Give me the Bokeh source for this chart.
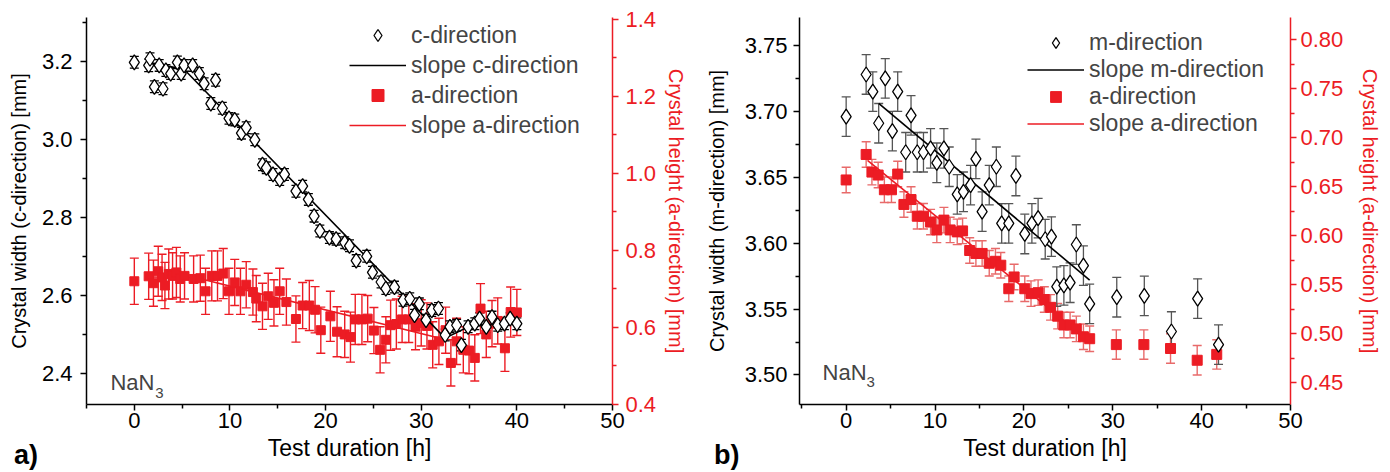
from bokeh.plotting import figure
from bokeh.models import (Range1d, LinearAxis, Whisker, TeeHead, ColumnDataSource,
                          Legend, LegendItem, Label, FixedTicker, PrintfTickFormatter, Div)
from bokeh.layouts import row, column
from bokeh.embed import file_html
from bokeh.resources import INLINE

# ---------------- data: panel a) ----------------
a_c_time = [0, 1.5, 1.64, 2.1, 2.6, 3.0, 3.3, 3.8, 4.5, 4.9, 5.2, 6.1, 6.8, 7.3, 8.0, 8.5,
            9.2, 9.9, 10.5, 11.2, 11.7, 12.6, 13.4, 13.8, 14.5, 15.2, 15.7, 16.9, 17.6,
            18.2, 18.8, 19.4, 20.4, 21.1, 22.0, 22.5, 23.2, 24.3, 24.9, 25.8, 26.3, 27.2,
            28.1, 28.8, 29.3, 29.8, 30.5, 31.1, 31.8, 32.5, 33.0, 33.7, 34.2, 34.9, 35.6,
            36.1, 36.8, 37.4, 38.0, 38.7, 39.3, 40.0]
a_c_width = [3.198, 3.19, 3.207, 3.135, 3.19, 3.13, 3.177, 3.169, 3.198, 3.169, 3.19, 3.19,
             3.169, 3.143, 3.092, 3.152, 3.08, 3.054, 3.05, 3.016, 3.03, 2.999, 2.935, 2.927,
             2.91, 2.897, 2.91, 2.867, 2.88, 2.846, 2.803, 2.765, 2.748, 2.744, 2.735, 2.727,
             2.689, 2.70, 2.659, 2.634, 2.617, 2.621, 2.587, 2.591, 2.549, 2.578, 2.536,
             2.561, 2.566, 2.498, 2.519, 2.523, 2.472, 2.519, 2.527, 2.54, 2.519, 2.544,
             2.523, 2.527, 2.54, 2.527]
a_c_err = [0.015, 0.016, 0.015, 0.015, 0.015, 0.015, 0.015, 0.015, 0.016, 0.015, 0.015,
           0.015, 0.015, 0.015, 0.015, 0.015, 0.015, 0.015, 0.015, 0.015, 0.015, 0.015,
           0.015, 0.015, 0.015, 0.015, 0.015, 0.015, 0.015, 0.015, 0.015, 0.015, 0.015,
           0.015, 0.015, 0.015, 0.015, 0.015, 0.015, 0.015, 0.015, 0.015, 0.015, 0.015,
           0.015, 0.015, 0.015, 0.015, 0.015, 0.015, 0.015, 0.015, 0.015, 0.015, 0.015,
           0.015, 0.015, 0.015, 0.015, 0.015, 0.015, 0.015]

a_a_time = [0, 1.5, 2.0, 2.5, 2.9, 3.2, 3.6, 4.0, 4.4, 4.8, 5.25, 6.2, 6.9, 7.45, 8.1, 8.7,
            9.3, 9.9, 10.5, 11.1, 11.7, 12.4, 12.75, 13.4, 14.0, 14.6, 15.2, 15.9, 16.9,
            17.6, 18.3, 18.9, 19.5, 20.5, 21.2, 22.0, 22.6, 23.1, 23.8, 24.4, 25.05, 25.7,
            26.3, 26.8, 27.4, 28.0, 28.7, 29.4, 30.0, 30.6, 31.2, 31.85, 32.55, 33.1, 33.7,
            34.4, 35.0, 35.6, 36.2, 36.8, 37.4, 38.0, 38.75, 39.35, 40.0]
a_a_height = [0.719, 0.732, 0.714, 0.745, 0.729, 0.708, 0.738, 0.733, 0.742, 0.725, 0.733,
              0.725, 0.727, 0.693, 0.733, 0.733, 0.739, 0.693, 0.716, 0.693, 0.710, 0.691,
              0.674, 0.654, 0.680, 0.663, 0.693, 0.665, 0.621, 0.656, 0.656, 0.645, 0.592,
              0.628, 0.588, 0.581, 0.574, 0.620, 0.620, 0.622, 0.591, 0.541, 0.567, 0.605,
              0.608, 0.620, 0.620, 0.601, 0.611, 0.603, 0.554, 0.563, 0.592, 0.507, 0.563,
              0.541, 0.539, 0.520, 0.648, 0.581, 0.609, 0.616, 0.545, 0.639, 0.638]
a_a_err = [0.06, 0.06, 0.06, 0.065, 0.06, 0.06, 0.065, 0.06, 0.065, 0.06, 0.06, 0.06, 0.06,
           0.06, 0.065, 0.065, 0.065, 0.06, 0.06, 0.06, 0.06, 0.06, 0.06, 0.06, 0.06, 0.06,
           0.06, 0.06, 0.06, 0.06, 0.065, 0.06, 0.06, 0.065, 0.065, 0.06, 0.065, 0.065,
           0.065, 0.06, 0.06, 0.06, 0.06, 0.065, 0.065, 0.06, 0.06, 0.06, 0.06, 0.06,
           0.06, 0.06, 0.06, 0.06, 0.06, 0.06, 0.06, 0.06, 0.065, 0.06, 0.06, 0.06, 0.06,
           0.065, 0.06]

a_slope_c_time = [1.5, 5.2, 32.5, 35.0, 40.0]
a_slope_c_width = [3.198, 3.18, 2.49, 2.52, 2.53]
a_slope_a_time = [1.5, 6.5, 32.6]
a_slope_a_height = [0.73, 0.728, 0.567]

# ---------------- data: panel b) ----------------
b_m_time = [0, 2.25, 3.0, 3.66, 4.4, 5.2, 5.8, 6.7, 7.3, 8.0, 8.7, 9.5, 10.2, 11.0, 11.6,
            12.5, 13.2, 14.0, 14.6, 15.3, 16.1, 16.9, 17.5, 18.3, 19.1, 20.1, 20.9, 21.6,
            22.4, 23.1, 23.7, 24.5, 25.2, 25.9, 26.7, 27.4, 30.45, 33.55, 36.6, 39.55, 41.9]
b_m_width = [3.696, 3.728, 3.715, 3.691, 3.725, 3.685, 3.715, 3.669, 3.697, 3.669, 3.669,
             3.672, 3.661, 3.672, 3.658, 3.637, 3.639, 3.644, 3.664, 3.624, 3.644, 3.658,
             3.615, 3.615, 3.651, 3.607, 3.615, 3.619, 3.603, 3.605, 3.567, 3.568, 3.570,
             3.599, 3.583, 3.554, 3.559, 3.560, 3.533, 3.558, 3.523]
b_m_err = [0.015, 0.015, 0.015, 0.015, 0.015, 0.015, 0.015, 0.015, 0.015, 0.015, 0.015,
           0.015, 0.015, 0.015, 0.015, 0.015, 0.015, 0.015, 0.015, 0.015, 0.015, 0.015,
           0.015, 0.015, 0.015, 0.015, 0.015, 0.015, 0.015, 0.015, 0.015, 0.015, 0.015,
           0.015, 0.015, 0.015, 0.015, 0.015, 0.015, 0.015, 0.015]

b_a_time = [0, 2.25, 2.9, 3.6, 4.3, 5.1, 5.8, 6.5, 7.3, 8.0, 8.7, 9.5, 10.2, 11.0, 11.7,
            12.5, 13.1, 13.9, 14.6, 15.3, 16.1, 16.8, 17.4, 18.3, 18.9, 20.1, 20.8, 21.6,
            22.3, 23.0, 23.8, 24.5, 25.2, 25.9, 26.7, 27.4, 30.4, 33.5, 36.5, 39.5, 41.7]
b_a_height = [0.657, 0.683, 0.665, 0.662, 0.647, 0.647, 0.663, 0.632, 0.637, 0.620, 0.620,
              0.614, 0.606, 0.616, 0.606, 0.604, 0.605, 0.585, 0.582, 0.582, 0.572, 0.574,
              0.570, 0.546, 0.558, 0.546, 0.541, 0.542, 0.535, 0.527, 0.518, 0.509, 0.509,
              0.505, 0.497, 0.495, 0.489, 0.489, 0.485, 0.473, 0.479]
b_a_err = [0.013, 0.013, 0.013, 0.013, 0.013, 0.013, 0.013, 0.013, 0.013, 0.013, 0.013,
           0.013, 0.013, 0.013, 0.013, 0.013, 0.013, 0.013, 0.013, 0.013, 0.013, 0.013,
           0.013, 0.013, 0.013, 0.013, 0.013, 0.013, 0.013, 0.013, 0.013, 0.013, 0.013,
           0.013, 0.013, 0.013, 0.015, 0.015, 0.015, 0.015, 0.015]

b_slope_m_time = [3.66, 27.4]
b_slope_m_width = [3.706, 3.572]
b_slope_a_time = [2.4, 27.4]
b_slope_a_height = [0.677, 0.492]

x_ticks = [0, 10, 20, 30, 40, 50]
x_minor = [-5, 5, 15, 25, 35, 45]

FONT = "Liberation Sans"
RED = "#ec1c24"
TICK_PX = "22px"
YLABEL_PX = "20px"
XLABEL_PX = "23px"
LEG_PX = "23px"
TOP, BOTTOM = 17, 68


def style_axis(ax, color, ticks, minor, fmt, label, label_px, tick_out):
    ax.ticker = FixedTicker(ticks=ticks, minor_ticks=minor)
    ax.formatter = PrintfTickFormatter(format=fmt)
    ax.axis_label = label
    ax.axis_line_color = color
    ax.major_tick_line_color = color
    ax.minor_tick_line_color = color
    ax.axis_line_width = 1.5
    ax.major_tick_line_width = 1.5
    ax.minor_tick_line_width = 1.5
    ax.major_tick_in = 0
    ax.major_tick_out = tick_out
    ax.minor_tick_in = 0
    ax.minor_tick_out = 4
    ax.major_label_text_color = color
    ax.major_label_text_font = FONT
    ax.major_label_text_font_size = TICK_PX
    ax.axis_label_text_color = color
    ax.axis_label_text_font = FONT
    ax.axis_label_text_font_size = label_px
    ax.axis_label_text_font_style = "normal"


def make_panel(width, borders, xr, yr, yr2, yticks, yminor, yfmt, ylabel,
               y2ticks, y2minor, y2fmt, y2label, stand):
    p = figure(width=width, height=472, x_range=Range1d(*xr), y_range=Range1d(*yr),
               output_backend="svg", toolbar_location=None,
               min_border_left=borders[0], min_border_right=borders[1],
               min_border_top=TOP, min_border_bottom=BOTTOM)
    p.extra_y_ranges = {"right": Range1d(*yr2)}
    p.outline_line_color = None
    p.xgrid.visible = False
    p.ygrid.visible = False
    style_axis(p.xaxis[0], "black", x_ticks, x_minor, "%d", "Test duration [h]",
               XLABEL_PX, 6)
    p.xaxis[0].major_label_standoff = 2
    p.xaxis[0].axis_label_standoff = stand[0]
    style_axis(p.yaxis[0], "black", yticks, yminor, yfmt, ylabel, YLABEL_PX, 6)
    p.yaxis[0].major_label_standoff = stand[1]
    p.yaxis[0].axis_label_standoff = stand[2]
    ax2 = LinearAxis(y_range_name="right")
    style_axis(ax2, RED, y2ticks, y2minor, y2fmt, y2label, YLABEL_PX, 6)
    ax2.major_label_standoff = stand[3]
    ax2.axis_label_standoff = stand[4]
    p.add_layout(ax2, "right")
    return p


def add_series(p, tx, ty, terr, ax, ay, aerr, stx, sty, sax, say, black_err, red_err,
               names, leg_loc, leg_h, sq_size):
    src_c = ColumnDataSource(dict(x=tx, y=ty, lo=[v - e for v, e in zip(ty, terr)],
                                  hi=[v + e for v, e in zip(ty, terr)]))
    src_a = ColumnDataSource(dict(x=ax, y=ay, lo=[v - e for v, e in zip(ay, aerr)],
                                  hi=[v + e for v, e in zip(ay, aerr)]))
    wa = Whisker(source=src_a, base="x", lower="lo", upper="hi", y_range_name="right",
                 line_color=red_err, line_width=1.4,
                 lower_head=TeeHead(size=9, line_color=red_err, line_width=1.4),
                 upper_head=TeeHead(size=9, line_color=red_err, line_width=1.4))
    p.add_layout(wa)
    wc = Whisker(source=src_c, base="x", lower="lo", upper="hi",
                 line_color=black_err, line_width=1.3,
                 lower_head=TeeHead(size=9, line_color=black_err, line_width=1.3),
                 upper_head=TeeHead(size=9, line_color=black_err, line_width=1.3))
    p.add_layout(wc)
    r_sa = p.line(sax, say, y_range_name="right", line_color=RED, line_width=1.6)
    r_a = p.scatter("x", "y", source=src_a, y_range_name="right", marker="square",
                    size=sq_size, fill_color=RED, line_color=RED)
    r_sc = p.line(stx, sty, line_color="black", line_width=1.6)
    r_c = p.scatter("x", "y", source=src_c, marker="diamond", size=15,
                    fill_color="white", line_color="black", line_width=1.3)
    items = [LegendItem(label=names[0], renderers=[r_c]),
             LegendItem(label=names[1], renderers=[r_sc]),
             LegendItem(label=names[2], renderers=[r_a]),
             LegendItem(label=names[3], renderers=[r_sa])]
    leg = Legend(items=items, location=leg_loc, orientation="vertical",
                 label_text_font=FONT, label_text_font_size=LEG_PX,
                 glyph_width=57, glyph_height=leg_h, label_height=leg_h,
                 label_standoff=5, spacing=0, padding=0, margin=0,
                 border_line_color=None, background_fill_alpha=0)
    p.add_layout(leg)


def add_nan3(p, x, y, xs, ys):
    p.add_layout(Label(x=x, y=y, text="NaN", text_font=FONT, text_font_size="22px",
                       text_baseline="middle", text_align="left"))
    p.add_layout(Label(x=xs, y=ys, text="3", text_font=FONT, text_font_size="15px",
                       text_baseline="middle", text_align="left"))


# ---------------- panel a ----------------
pa = make_panel(698, (86, 86), (-5, 50), (2.3196, 3.3129), (0.399, 1.404),
                [2.4, 2.6, 2.8, 3.0, 3.2], [2.5, 2.7, 2.9, 3.1, 3.3], "%.1f",
                "Crystal width (c-direction) [mm]",
                [0.4, 0.6, 0.8, 1.0, 1.2, 1.4], [0.5, 0.7, 0.9, 1.1, 1.3], "%.1f",
                "Crystal height (a-direction) [mm]",
                (4, 8, 9, 7, 6))
add_series(pa, a_c_time, a_c_width, a_c_err, a_a_time, a_a_height, a_a_err,
           a_slope_c_time, a_slope_c_width, a_slope_a_time, a_slope_a_height,
           "black", RED,
           ["c-direction", "slope c-direction", "a-direction", "slope a-direction"],
           (263, 264), 30, 9)
add_nan3(pa, -2.5, 2.376, 2.2, 2.348)

# ---------------- panel b ----------------
pb = make_panel(692, (101, 100), (-5.25, 50), (3.47761, 3.77124), (0.42786, 0.82276),
                [3.50, 3.55, 3.60, 3.65, 3.70, 3.75],
                [3.525, 3.575, 3.625, 3.675, 3.725], "%.2f",
                "Crystal width (m-direction) [mm]",
                [0.45, 0.50, 0.55, 0.60, 0.65, 0.70, 0.75, 0.80],
                [0.475, 0.525, 0.575, 0.625, 0.675, 0.725, 0.775], "%.2f",
                "Crystal height (a-direction) [mm]",
                (4, 6, 14, 4, 13))
add_series(pb, b_m_time, b_m_width, b_m_err, b_a_time, b_a_height, b_a_err,
           b_slope_m_time, b_slope_m_width, b_slope_a_time, b_slope_a_height,
           "#555555", "#e86a6a",
           ["m-direction", "slope m-direction", "a-direction", "slope a-direction"],
           (228, 267), 27, 10)
add_nan3(pb, -2.66, 3.502, 2.3, 3.4945)


def panel_tag(text, left):
    return Div(text=text, width=40, height=30,
               styles={"position": "absolute", "left": f"{left}px", "top": "435px",
                       "font-family": FONT, "font-size": "27px", "font-weight": "bold",
                       "line-height": "30px", "color": "black"})


tag_a = panel_tag("a)", 9)
tag_b = panel_tag("b)", 709)

layout = column(row(pa, pb), tag_a, tag_b)
open("out.html", "w").write(file_html(layout, INLINE))
